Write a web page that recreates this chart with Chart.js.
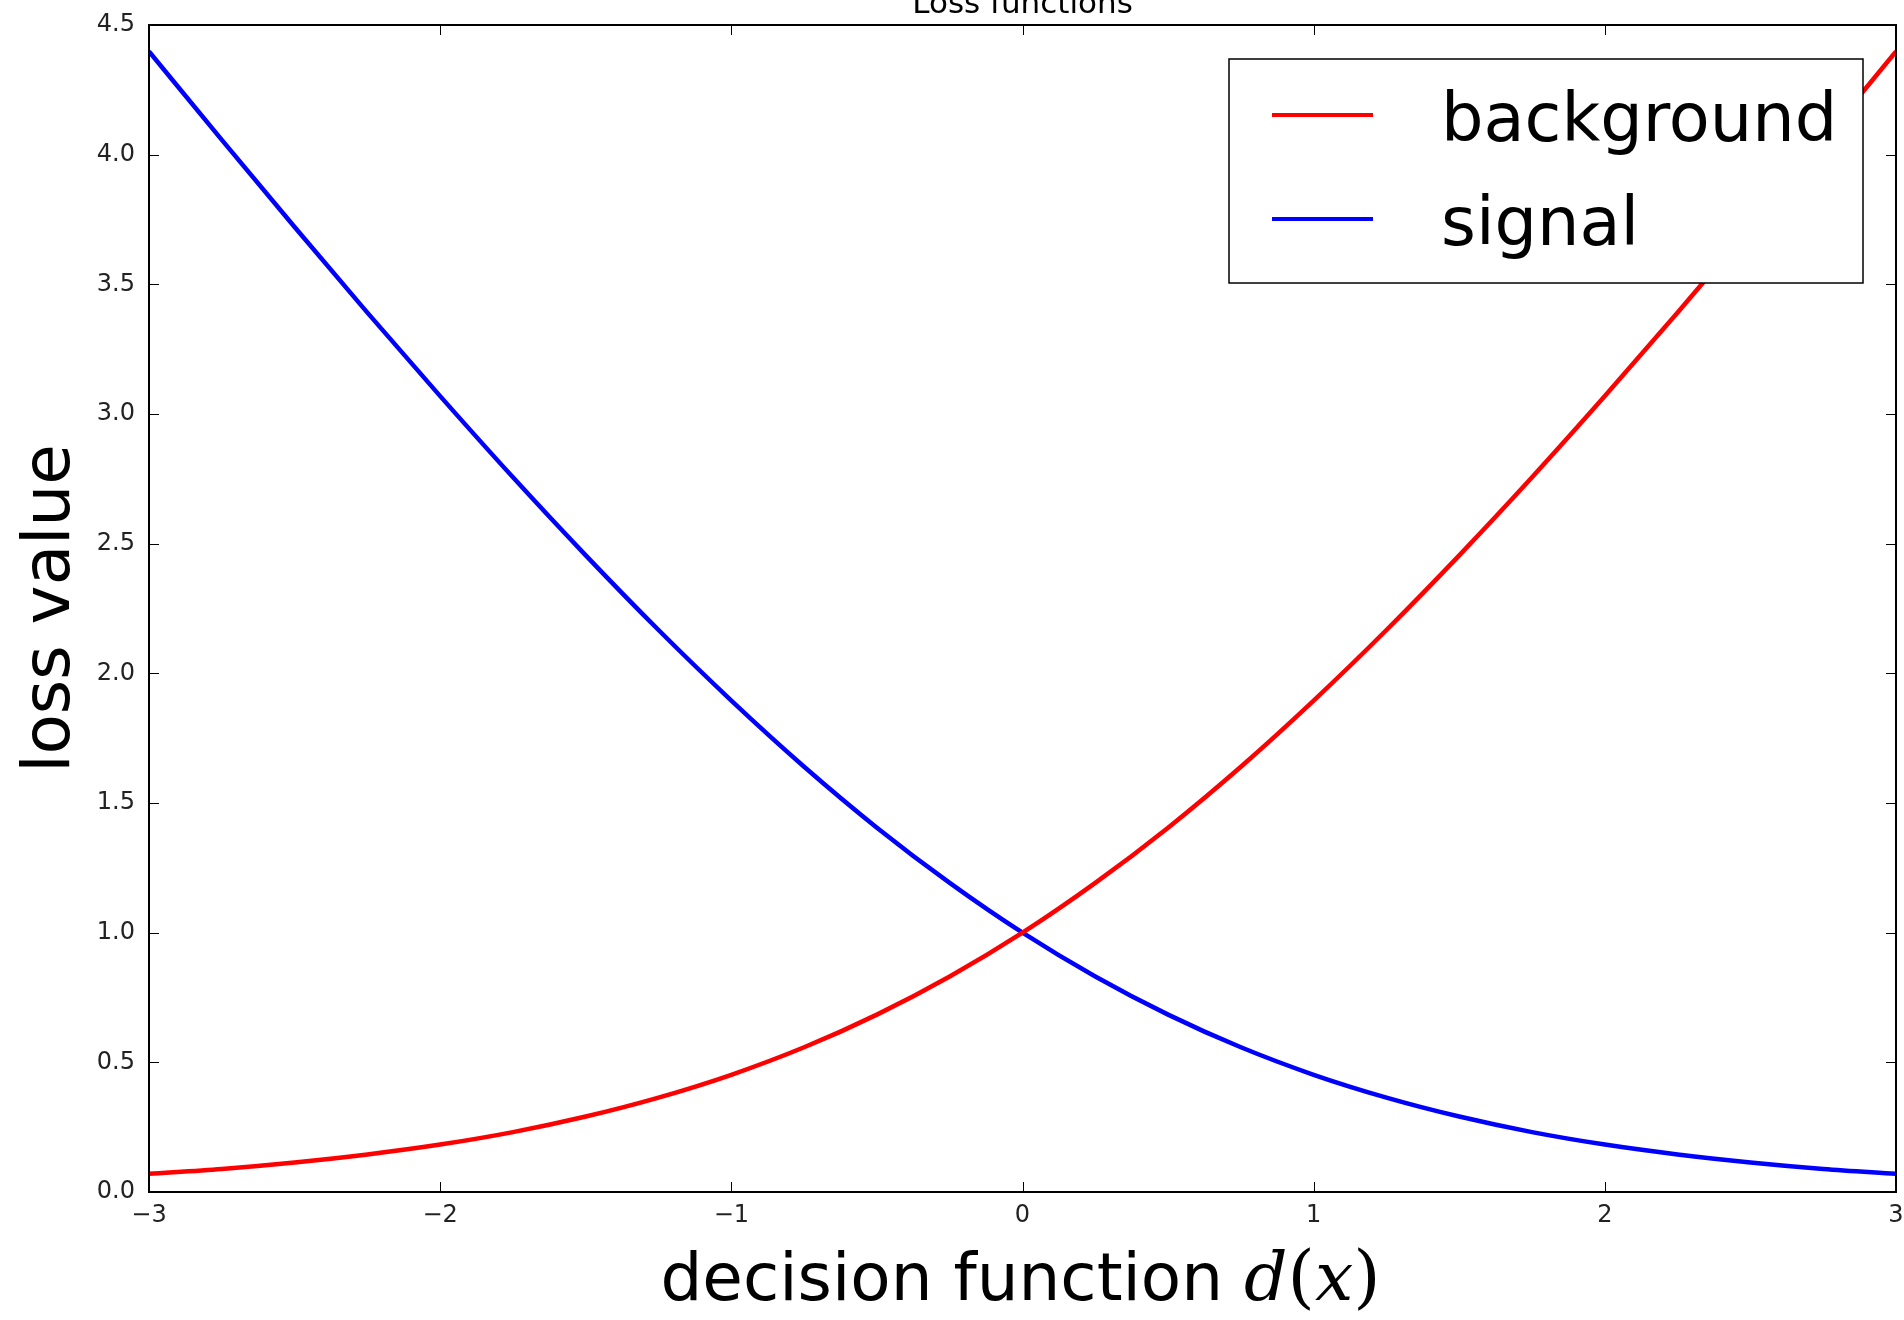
<!DOCTYPE html>
<html>
<head>
<meta charset="utf-8">
<script src="https://cdn.jsdelivr.net/npm/chart.js@4"></script>
<style>
  html, body { margin: 0; padding: 0; background: #fff; }
  #lossChart { display: block; }
</style>
</head>
<body>
<canvas id="lossChart" width="1904" height="1320"></canvas>
<script>
// Data
const decisionValues = [-3, -2.75, -2.5, -2.25, -2, -1.75, -1.5, -1.25, -1, -0.75, -0.5, -0.25,
    0, 0.25, 0.5, 0.75, 1, 1.25, 1.5, 1.75, 2, 2.25, 2.5, 2.75, 3];
const backgroundLoss = [0.070, 0.089, 0.114, 0.145, 0.183, 0.231, 0.291, 0.364, 0.452, 0.558, 0.684, 0.831,
    1.000, 1.192, 1.405, 1.640, 1.895, 2.167, 2.455, 2.756, 3.069, 3.391, 3.721, 4.057, 4.398];
const signalLoss = [4.398, 4.057, 3.721, 3.391, 3.069, 2.756, 2.455, 2.167, 1.895, 1.640, 1.405, 1.192,
    1.000, 0.831, 0.684, 0.558, 0.452, 0.364, 0.291, 0.231, 0.183, 0.145, 0.114, 0.089, 0.070];
const xTicks = [-3, -2, -1, 0, 1, 2, 3];
const yTicks = [0, 0.5, 1, 1.5, 2, 2.5, 3, 3.5, 4, 4.5];

const FONT = '"DejaVu Sans", sans-serif';

function toPoints(values) {
    return decisionValues.map((x, i) => ({ x: x, y: values[i] }));
}

// Frame with inward ticks on all four sides
const framePlugin = {
    id: 'frame',
    afterDatasetsDraw(chart) {
        const { ctx, chartArea: a, scales } = chart;
        ctx.save();
        ctx.strokeStyle = '#000';
        ctx.lineWidth = 1;
        const len = 10;
        ctx.beginPath();
        xTicks.forEach(v => {
            const px = Math.round(scales.x.getPixelForValue(v)) + 0.5;
            ctx.moveTo(px, a.bottom); ctx.lineTo(px, a.bottom - len);
            ctx.moveTo(px, a.top); ctx.lineTo(px, a.top + len);
        });
        yTicks.forEach(v => {
            const py = Math.round(scales.y.getPixelForValue(v)) + 0.5;
            ctx.moveTo(a.left, py); ctx.lineTo(a.left + len, py);
            ctx.moveTo(a.right, py); ctx.lineTo(a.right - len, py);
        });
        ctx.stroke();
        ctx.lineWidth = 2;
        ctx.strokeRect(a.left, a.top, a.right - a.left, a.bottom - a.top);
        ctx.restore();
    }
};

// Boxed legend in the upper right corner
const boxLegendPlugin = {
    id: 'boxLegend',
    afterDraw(chart) {
        const { ctx, chartArea: a } = chart;
        const right = a.right - 33, top = a.top + 34;
        const left = right - 634, bottom = top + 224;
        ctx.save();
        ctx.fillStyle = '#fff';
        ctx.fillRect(left, top, right - left, bottom - top);
        ctx.strokeStyle = '#000';
        ctx.lineWidth = 1.5;
        ctx.strokeRect(left, top, right - left, bottom - top);
        chart.data.datasets.forEach((ds, i) => {
            const rowY = top + 56 + i * 104;
            ctx.strokeStyle = ds.borderColor;
            ctx.lineWidth = 4;
            ctx.beginPath();
            ctx.moveTo(left + 43, rowY);
            ctx.lineTo(left + 144, rowY);
            ctx.stroke();
            ctx.fillStyle = '#000';
            ctx.font = '67px ' + FONT;
            ctx.textBaseline = 'alphabetic';
            ctx.textAlign = 'left';
            ctx.fillText(ds.label, left + 212, rowY + 26);
        });
        ctx.restore();
    }
};

// x axis title with the math part in italic serif
const xTitlePlugin = {
    id: 'xTitle',
    afterDraw(chart) {
        const { ctx, chartArea: a } = chart;
        const parts = [
            ['decision function ', '66px ' + FONT],
            ['d', 'italic 68px "DejaVu Serif", serif'],
            ['(', '70px "DejaVu Serif", serif'],
            ['x', 'italic 68px "DejaVu Serif", serif'],
            [')', '70px "DejaVu Serif", serif']
        ];
        ctx.save();
        let total = 0;
        parts.forEach(p => { ctx.font = p[1]; total += ctx.measureText(p[0]).width; });
        let x = (a.left + a.right) / 2 - total / 2 - 2;
        ctx.fillStyle = '#000';
        ctx.textBaseline = 'alphabetic';
        ctx.textAlign = 'left';
        parts.forEach(p => {
            ctx.font = p[1];
            ctx.fillText(p[0], x, 1300);
            x += ctx.measureText(p[0]).width;
        });
        ctx.restore();
    }
};

const lossData = {
    datasets: [{
        label: 'background',
        data: toPoints(backgroundLoss),
        borderColor: '#ff0000',
        backgroundColor: '#ff0000',
        borderWidth: 4.5,
        pointRadius: 0,
        cubicInterpolationMode: 'monotone',
        fill: false
    }, {
        label: 'signal',
        data: toPoints(signalLoss),
        borderColor: '#0000ff',
        backgroundColor: '#0000ff',
        borderWidth: 4.5,
        pointRadius: 0,
        cubicInterpolationMode: 'monotone',
        fill: false
    }]
};

const lossConfig = {
    type: 'line',
    data: lossData,
    options: {
        responsive: false,
        animation: false,
        layout: { padding: { top: 0, right: 8, left: 0, bottom: 0 } },
        plugins: {
            legend: { display: false },
            tooltip: { enabled: false },
            title: {
                display: true,
                fullSize: false,
                text: 'Loss functions',
                color: '#000',
                font: { family: FONT, size: 31, weight: 'normal', lineHeight: 0.3 },
                padding: { top: 0, bottom: 15.7 }
            }
        },
        scales: {
            x: {
                type: 'linear',
                min: -3,
                max: 3,
                afterFit(scale) {
                    scale.height = 128;
                    scale.paddingLeft = 0;
                    scale.paddingRight = 0;
                },
                afterBuildTicks(scale) { scale.ticks = xTicks.map(v => ({ value: v })); },
                grid: { display: false, drawTicks: false },
                border: { display: false },
                ticks: {
                    color: '#222',
                    padding: 9,
                    maxRotation: 0,
                    font: { family: FONT, size: 24 },
                    callback: v => (v < 0 ? '\u2212' + Math.abs(v) : String(v))
                }
            },
            y: {
                type: 'linear',
                min: 0,
                max: 4.5,
                afterFit(scale) {
                    scale.width = 149;
                    scale.paddingTop = 0;
                    scale.paddingBottom = 0;
                },
                afterBuildTicks(scale) { scale.ticks = yTicks.map(v => ({ value: v })); },
                grid: { display: false, drawTicks: false },
                border: { display: false },
                title: {
                    display: true,
                    text: 'loss value',
                    color: '#000',
                    font: { family: FONT, size: 66, lineHeight: 1.0 },
                    padding: { top: 19, bottom: 0 }
                },
                ticks: {
                    color: '#222',
                    padding: 14,
                    font: { family: FONT, size: 24 },
                    callback: v => Number(v).toFixed(1)
                }
            }
        }
    },
    plugins: [framePlugin, boxLegendPlugin, xTitlePlugin]
};

const lossChart = new Chart(
    document.getElementById('lossChart'),
    lossConfig
);
</script>
</body>
</html>
